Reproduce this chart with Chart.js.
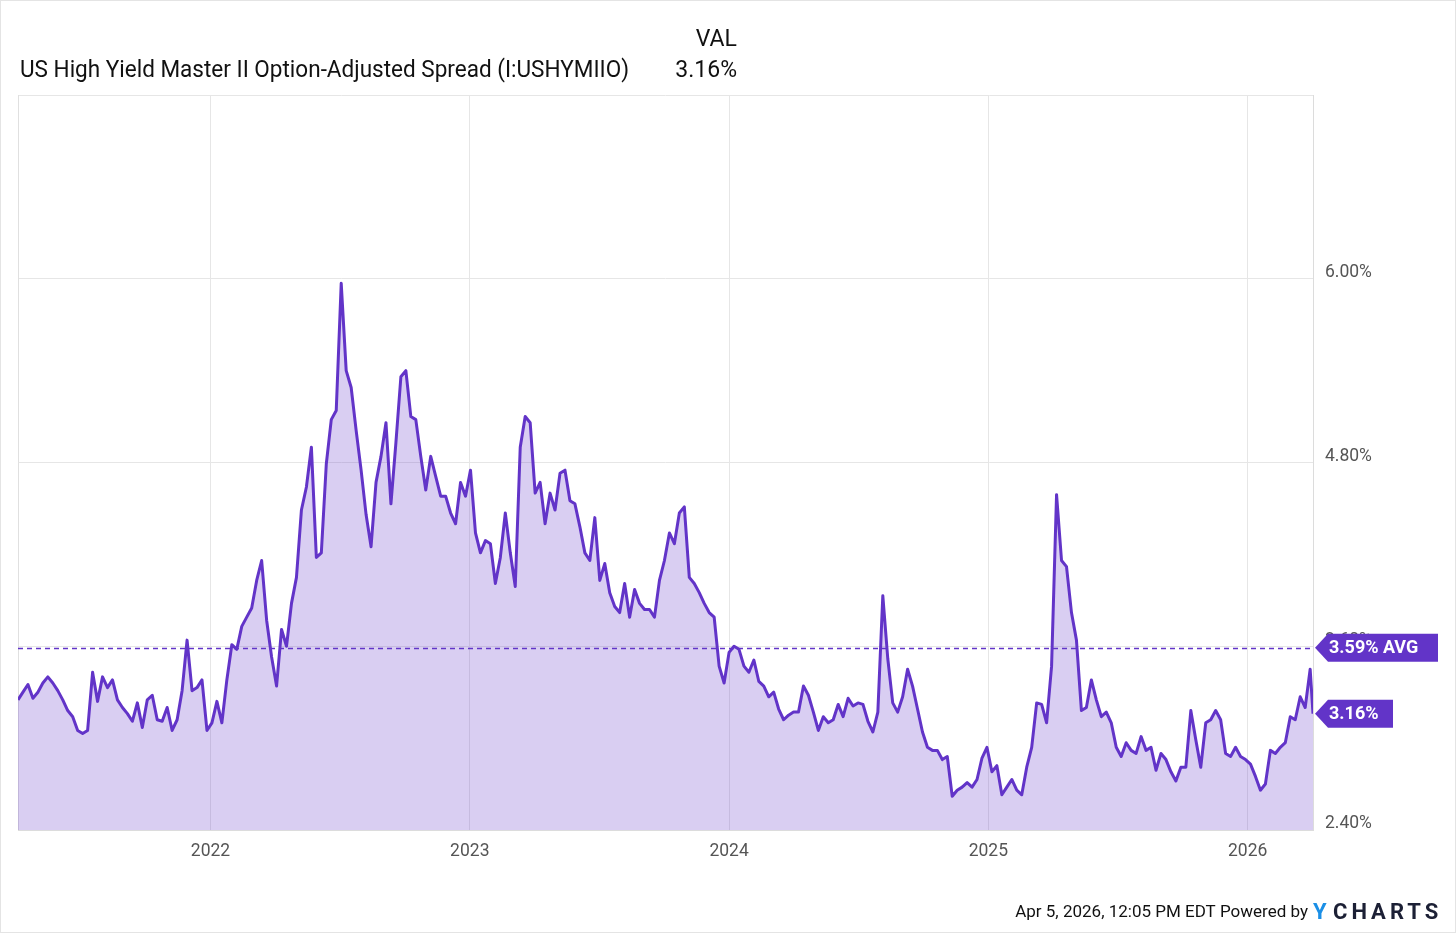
<!DOCTYPE html>
<html>
<head>
<meta charset="utf-8">
<script src="https://cdn.jsdelivr.net/npm/chart.js@4.4.1/dist/chart.umd.min.js"></script>
<style>
  html, body { margin: 0; padding: 0; background: #fff; }
  #wrap { position: relative; width: 1456px; height: 933px; box-sizing: border-box; border: 1px solid #e4e4e4; }
  #chart { display: block; }
</style>
</head>
<body>
<div id="wrap"><canvas id="chart" width="1454" height="931"></canvas></div>
<script>
// weekly readings, Monday 2021-04-05 onward
const startDate = '2021-04-05';
const weeklySpread = [
  // 2021
  3.25, 3.30, 3.35, 3.26, 3.30, 3.36, 3.40, 3.36, 3.31, 3.25,
  3.18, 3.14, 3.05, 3.03, 3.05, 3.43, 3.24, 3.40, 3.33, 3.38,
  3.25, 3.20, 3.16, 3.11, 3.23, 3.07, 3.25, 3.28, 3.12, 3.11,
  3.20, 3.05, 3.12, 3.31, 3.64, 3.31, 3.33, 3.38, 3.05,
  // 2022
  3.10, 3.24, 3.10, 3.38, 3.61, 3.58, 3.73, 3.79, 3.85, 4.03, 4.16,
  3.77, 3.53, 3.34, 3.71, 3.60, 3.88, 4.05, 4.49, 4.64, 4.90,
  4.18, 4.21, 4.79, 5.08, 5.14, 5.97, 5.40, 5.29, 5.01, 4.75,
  4.46, 4.25, 4.67, 4.84, 5.06, 4.53, 4.93, 5.36, 5.40, 5.10,
  5.08, 4.84, 4.62, 4.84, 4.71, 4.58, 4.58, 4.47, 4.40, 4.67, 4.58,
  // 2023
  4.75, 4.34, 4.21, 4.29, 4.27, 4.01, 4.18, 4.47, 4.21,
  3.99, 4.90, 5.10, 5.06, 4.60, 4.67, 4.40, 4.60, 4.49, 4.73,
  4.75, 4.55, 4.53, 4.38, 4.21, 4.16, 4.44, 4.03, 4.14, 3.95,
  3.86, 3.82, 4.01, 3.79, 3.97, 3.88, 3.84, 3.84, 3.79, 4.03,
  4.16, 4.34, 4.27, 4.47, 4.51, 4.05, 4.01, 3.95, 3.88, 3.82,
  3.79, 3.47, 3.36,
  // 2024
  3.56, 3.60, 3.58, 3.47, 3.43, 3.51, 3.37,
  3.34, 3.27, 3.30, 3.19, 3.12, 3.15, 3.17, 3.17, 3.34, 3.28,
  3.17, 3.05, 3.14, 3.10, 3.12, 3.22, 3.14, 3.26, 3.21, 3.23,
  3.22, 3.11, 3.04, 3.17, 3.93, 3.52, 3.23, 3.17, 3.27, 3.45,
  3.34, 3.19, 3.04, 2.94, 2.92, 2.92, 2.86, 2.88, 2.62, 2.66,
  2.68, 2.71, 2.68, 2.73, 2.87,
  // 2025
  2.94, 2.78, 2.82, 2.63, 2.68,
  2.73, 2.66, 2.63, 2.81, 2.94, 3.23, 3.22, 3.10, 3.47, 4.59,
  4.16, 4.12, 3.82, 3.64, 3.18, 3.20, 3.38, 3.25, 3.14, 3.17,
  3.10, 2.94, 2.88, 2.97, 2.92, 2.90, 3.01, 2.92, 2.94, 2.79,
  2.90, 2.86, 2.78, 2.72, 2.81, 2.81, 3.18, 2.99, 2.81, 3.10,
  3.12, 3.18, 3.12, 2.90, 2.88, 2.94, 2.88,
  // 2026
  2.86, 2.83, 2.75, 2.66, 2.70, 2.92, 2.90, 2.94, 2.97, 3.14,
  3.12, 3.27, 3.20, 3.45
];
const lastDate = '2026-04-03';
const lastValue = 3.16;
const avgValue = 3.59;

const yearTicks = [2022, 2023, 2024, 2025, 2026];
const yearLabels = ['2022', '2023', '2024', '2025', '2026'];
const spreadTicks = [2.4, 3.6, 4.8, 6.0, 7.2];
const hiddenTick = 7.2;

const seriesName = 'US High Yield Master II Option-Adjusted Spread (I:USHYMIIO)';
const stampText = 'Apr 5, 2026, 12:05 PM EDT Powered by';

const PURPLE = '#6234C8';

function yearFraction(d) {
  const y = d.getUTCFullYear();
  const a = Date.UTC(y, 0, 1), b = Date.UTC(y + 1, 0, 1);
  return y + (d.getTime() - a) / (b - a);
}

const t0 = new Date(startDate + 'T00:00:00Z').getTime();
const points = weeklySpread.map(function (v, i) {
  return { x: yearFraction(new Date(t0 + i * 7 * 86400000)), y: v };
});
points.push({ x: yearFraction(new Date(lastDate + 'T00:00:00Z')), y: lastValue });

// draw text squeezed horizontally to a given width (the original font is narrower)
function fitText(ctx, text, x, y, width) {
  const w = ctx.measureText(text).width;
  const k = Math.min(1, width / w);
  ctx.save();
  ctx.translate(x, y);
  ctx.scale(k, 1);
  ctx.fillText(text, 0, 0);
  ctx.restore();
}

function tag(ctx, text, xTip, yMid, w) {
  const h = 28;
  ctx.beginPath();
  ctx.moveTo(xTip, yMid);
  ctx.lineTo(xTip + 13, yMid - h / 2);
  ctx.lineTo(xTip + w, yMid - h / 2);
  ctx.lineTo(xTip + w, yMid + h / 2);
  ctx.lineTo(xTip + 13, yMid + h / 2);
  ctx.closePath();
  ctx.fillStyle = PURPLE;
  ctx.fill();
  ctx.fillStyle = '#fff';
  ctx.font = 'bold 18px Roboto';
  ctx.textAlign = 'left';
  ctx.textBaseline = 'middle';
  ctx.fillText(text, xTip + 14, yMid + 1);
}

const overlay = {
  id: 'overlay',
  beforeDatasetsDraw(chart) {
    const ctx = chart.ctx, a = chart.chartArea;
    ctx.save();
    ctx.strokeStyle = '#e0e0e0';
    ctx.lineWidth = 1;
    ctx.beginPath();
    ctx.moveTo(a.left + 0.5, a.top);
    ctx.lineTo(a.left + 0.5, a.bottom);
    ctx.stroke();
    ctx.restore();
  },
  afterDatasetsDraw(chart) {
    const ctx = chart.ctx, a = chart.chartArea;
    const y = Math.round(chart.scales.y.getPixelForValue(avgValue)) + 0.5;
    ctx.save();
    ctx.strokeStyle = PURPLE;
    ctx.lineWidth = 1.5;
    ctx.setLineDash([5, 4]);
    ctx.beginPath();
    ctx.moveTo(a.left, y);
    ctx.lineTo(a.right, y);
    ctx.stroke();
    ctx.restore();
  },
  afterDraw(chart) {
    const ctx = chart.ctx, a = chart.chartArea;
    const ys = chart.scales.y;
    ctx.save();
    tag(ctx, avgValue.toFixed(2) + '% AVG', a.right + 2, ys.getPixelForValue(avgValue), 123);
    tag(ctx, lastValue.toFixed(2) + '%', a.right + 2, ys.getPixelForValue(lastValue), 78);

    // header
    ctx.fillStyle = '#111';
    ctx.textBaseline = 'middle';
    ctx.font = '23px Roboto';
    ctx.textAlign = 'right';
    ctx.fillText('VAL', 736, 39);
    ctx.fillText(lastValue.toFixed(2) + '%', 736, 70);
    ctx.textAlign = 'left';
    fitText(ctx, seriesName, 19, 70, 609);

    // footer
    ctx.font = '17px Roboto';
    ctx.textAlign = 'right';
    ctx.fillStyle = '#111';
    ctx.fillText(stampText, 1307, 912);
    ctx.font = 'bold 22px Roboto';
    ctx.textAlign = 'left';
    ctx.fillStyle = '#1b8fe6';
    ctx.fillText('Y', 1312, 912);
    ctx.fillStyle = '#1c2035';
    ctx.letterSpacing = '4px';
    ctx.fillText('CHARTS', 1332, 912);
    ctx.restore();
  }
};

new Chart(document.getElementById('chart'), {
  type: 'line',
  data: {
    datasets: [{
      label: seriesName,
      data: points,
      borderColor: PURPLE,
      borderWidth: 3,
      borderJoinStyle: 'round',
      backgroundColor: 'rgba(98, 52, 200, 0.24)',
      fill: 'start',
      pointRadius: 0,
      tension: 0
    }]
  },
  options: {
    responsive: false,
    animation: false,
    devicePixelRatio: 1,
    layout: { padding: { top: 94, left: 17, right: 0, bottom: 0 } },
    plugins: { legend: { display: false }, tooltip: { enabled: false } },
    scales: {
      x: {
        type: 'linear',
        min: points[0].x,
        max: points[points.length - 1].x,
        afterFit: function (s) { s.height = 931 - 829; },
        afterBuildTicks: function (s) { s.ticks = yearTicks.map(function (v) { return { value: v }; }); },
        ticks: {
          padding: 11,
          color: '#555',
          font: { family: 'Roboto', size: 17.5 },
          maxRotation: 0,
          callback: function (v) { return yearLabels[yearTicks.indexOf(v)]; }
        },
        grid: { color: '#e6e6e6', drawTicks: false },
        border: { display: true, color: '#dcdcdc' }
      },
      y: {
        position: 'right',
        min: spreadTicks[0],
        max: spreadTicks[spreadTicks.length - 1],
        afterFit: function (s) { s.width = 1454 - 1312; },
        afterBuildTicks: function (s) { s.ticks = spreadTicks.map(function (v) { return { value: v }; }); },
        ticks: {
          padding: 12,
          labelOffset: -6,
          color: '#555',
          font: { family: 'Roboto', size: 17.5 },
          callback: function (v) { return v === hiddenTick ? '' : v.toFixed(2) + '%'; }
        },
        grid: { color: '#e6e6e6', drawTicks: false },
        border: { display: true, color: '#dcdcdc' }
      }
    }
  },
  plugins: [overlay]
});
</script>
</body>
</html>
